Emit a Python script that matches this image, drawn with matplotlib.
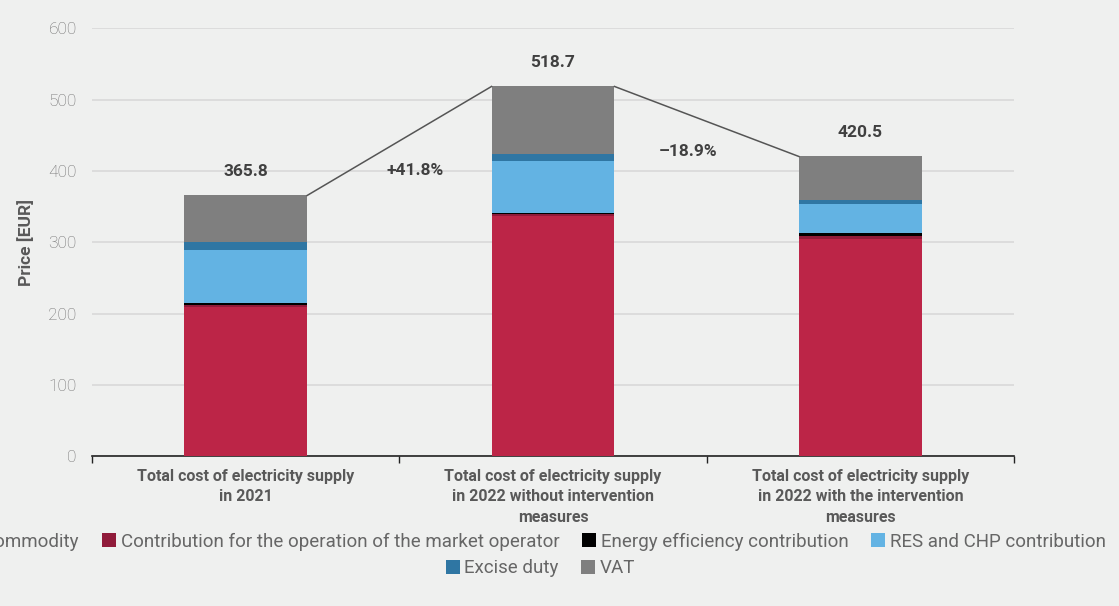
import numpy as np
import matplotlib.pyplot as plt
from matplotlib.patches import Patch

plt.rcParams['font.family'] = ['Roboto', 'DejaVu Sans']

# categories and stacked components (EUR)
categories = ["Total cost of electricity supply\nin 2021",
              "Total cost of electricity supply\nin 2022 without intervention\nmeasures",
              "Total cost of electricity supply\nin 2022 with the intervention\nmeasures"]
commodity = [209.5, 337.0, 305.0]
market_operator = [2.5, 2.5, 3.5]
energy_efficiency = [3.5, 1.5, 4.0]
res_chp = [73.5, 72.5, 41.0]
excise_duty = [11.0, 11.0, 5.5]
vat = [65.8, 94.2, 61.5]
totals = [365.8, 518.7, 420.5]
changes = ["+41.8%", "\u201318.9%"]

series = [
    ("Commodity", commodity, "#bc2547"),
    ("Contribution for the operation of the market operator", market_operator, "#901b3a"),
    ("Energy efficiency contribution", energy_efficiency, "#000000"),
    ("RES and CHP contribution", res_chp, "#63b3e3"),
    ("Excise duty", excise_duty, "#2f76a3"),
    ("VAT", vat, "#7f7f7f"),
]

bg = "#eff0ef"
fig = plt.figure(figsize=(11.19, 6.06), dpi=100, facecolor=bg)
ax = fig.add_axes([0.0822, 0.247, 0.824, 0.706], facecolor=bg)

x = np.arange(len(categories))
w = 0.4
bottom = np.zeros(len(categories))
for name, vals, col in series:
    ax.bar(x, vals, w, bottom=bottom, color=col, label=name, zorder=3)
    bottom += np.array(vals)

# connectors between bar tops
for i in range(len(x) - 1):
    ax.plot([x[i] + w / 2, x[i + 1] - w / 2], [totals[i], totals[i + 1]],
            color="#555555", lw=1.1, zorder=4)

for xi, t in zip(x, totals):
    ax.annotate(f"{t:.1f}", (xi, t), xytext=(0, 12), textcoords="offset points",
                ha="center", va="bottom", fontsize=12.5, fontweight="bold", color="#404040")

ax.text(0.55, 401, changes[0], ha="center", va="center", fontsize=12.5,
        fontweight="bold", color="#404040")
ax.text(1.44, 427, changes[1], ha="center", va="center", fontsize=12.5,
        fontweight="bold", color="#404040")

ax.set_xlim(-0.5, 2.5)
ax.set_ylim(0, 600)
ax.set_yticks(range(0, 601, 100))
ax.yaxis.grid(True, color="#d9d9d9", lw=1.2, zorder=0)
ax.tick_params(axis="y", length=0, pad=11, labelsize=12.5, labelcolor="#707070")
for lab in ax.get_yticklabels():
    lab.set_fontweight("light")

ax.set_xticks([-0.5, 0.5, 1.5, 2.5])
ax.set_xticklabels([])
ax.set_xticks(x, minor=True)
ax.set_xticklabels(categories, minor=True, fontsize=11.5, fontweight="bold",
                   color="#595959", linespacing=1.45)
ax.tick_params(axis="x", which="major", length=5, width=1, color="#222222", direction="out")
ax.tick_params(axis="x", which="minor", length=0, pad=9)

for s in ["top", "right", "left"]:
    ax.spines[s].set_visible(False)
ax.spines["bottom"].set_color("#222222")
ax.spines["bottom"].set_linewidth(1.2)

ax.set_ylabel("Price [EUR]", fontsize=12.5, fontweight="bold", color="#595959", labelpad=10)

handles = [Patch(facecolor=c, label=n) for n, _, c in series]
leg_kw = dict(frameon=False, fontsize=13.5, handlelength=0.75, handleheight=0.75,
              handletextpad=0.25, columnspacing=1.2, labelcolor="#666666")
fig.legend(handles=handles[:4], ncol=4, loc="center", bbox_to_anchor=(0.478, 0.106), **leg_kw)
fig.legend(handles=handles[4:], ncol=2, loc="center", bbox_to_anchor=(0.483, 0.062), **leg_kw)

fig.savefig("out.png", dpi=100, facecolor=bg)
